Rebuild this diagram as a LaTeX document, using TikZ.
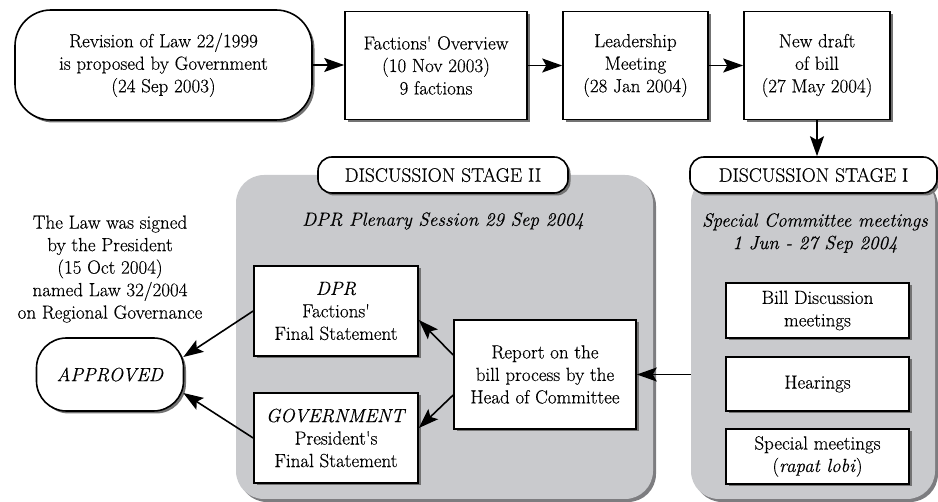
\documentclass[tikz,border=0pt]{standalone}
\usepackage{fontspec}
\setmainfont{Latin Modern Roman}[FakeBold=0.35]
\usetikzlibrary{shadows,arrows.meta,calc}
\definecolor{panelgrey}{RGB}{201,202,205}
\definecolor{panelshade}{RGB}{125,125,128}
\begin{document}
\begin{tikzpicture}[x=1pt,y=-1pt,
  base/.style={font=\fontsize{19}{22.5}\selectfont, align=center, inner sep=0pt},
  box/.style={base, draw, line width=1.6pt, fill=white,
    drop shadow={shadow xshift=2.5pt, shadow yshift=-2.5pt, fill=black!55, opacity=1}},
  roundbox/.style={box, rounded corners=36pt},
  tag/.style={box, rounded corners=14pt, font=\fontsize{19.5}{24}\selectfont},
  panel/.style={fill=panelgrey, rounded corners=28pt, inner sep=0pt,
    drop shadow={shadow xshift=3pt, shadow yshift=-3pt, fill=panelshade, opacity=1}},
  flow/.style={line width=1.6pt, -{Stealth[length=20pt,width=14pt,inset=4pt]}},
]
\useasboundingbox (0,0) rectangle (938,502);

% grey stage panels
\node[panel, minimum width=417pt, minimum height=324pt] (p2) at (444.5,337) {};
\node[panel, minimum width=244pt, minimum height=324pt] (p1) at (813,337) {};

% stage labels
\node[tag, minimum width=250pt, minimum height=36pt] (tag2) at (443,175) {DISCUSSION STAGE II};
\node[tag, minimum width=247pt, minimum height=36pt] (tag1) at (813.5,175) {DISCUSSION STAGE I};

% top row
\node[roundbox, minimum width=297pt, minimum height=110pt] (b1) at (163.5,65)
  {Revision of Law 22/1999\\is proposed by Government\\(24 Sep 2003)};
\node[box, minimum width=182pt, minimum height=108pt] (b2) at (436,65.5)
  {Factions\textquotesingle\ Overview\\(10 Nov 2003)\\9 factions};
\node[box, minimum width=145pt, minimum height=108pt] (b3) at (635.5,65.5)
  {Leadership\\Meeting\\(28 Jan 2004)};
\node[box, minimum width=146pt, minimum height=108pt] (b4) at (817,65.5)
  {New draft\\of bill\\(27 May 2004)};

% panel headings
\node[base] (t2) at (443,221) {\itshape DPR Plenary Session 29 Sep 2004};
\node[base] (t1) at (815,233) {\itshape Special Committee meetings\\\itshape 1 Jun - 27 Sep 2004};

% stage I meetings
\node[box, minimum width=183pt, minimum height=55pt] (m1) at (817.5,310.5) {Bill Discussion\\meetings};
\node[box, minimum width=183pt, minimum height=54pt] (m2) at (817.5,384) {Hearings};
\node[box, minimum width=183pt, minimum height=55pt] (m3) at (817.5,456.5) {Special meetings\\(\textit{rapat lobi})};

% stage II
\node[box, minimum width=182pt, minimum height=109pt] (rep) at (545,374.5)
  {Report on the\\bill process by the\\Head of Committee};
\node[box, minimum width=164pt, minimum height=90pt] (dpr) at (336,311)
  {\textit{DPR}\\Factions\textquotesingle\\Final Statement};
\node[box, minimum width=164pt, minimum height=90pt] (gov) at (336,438)
  {\textit{GOVERNMENT}\\President\textquotesingle s\\Final Statement};

% outcome
\node[base] (signed) at (110,269)
  {The Law was signed\\by the President\\(15 Oct 2004)\\named Law 32/2004\\on Regional Governance};
\node[box, rounded corners=30pt, minimum width=147pt, minimum height=73pt] (appr) at (110,374.5)
  {\textit{APPROVED}};

% connectors
\draw[flow] (b1.east) -- (b2.west |- b1.east);
\draw[flow] (b2.east) -- (b3.west);
\draw[flow] (b3.east) -- (b4.west);
\draw[flow] (b4.south) -- (b4.south |- tag1.north);
\draw[flow] (p1.west |- rep.east) -- (rep.east);
\draw[flow] ($(rep.west)+(0,-19.5)$) -- ($(dpr.east)+(0,9)$);
\draw[flow] ($(rep.west)+(0,20.5)$) -- ($(gov.east)+(0,-10)$);
\draw[flow] (dpr.west) -- ($(appr.east)+(-1,-17.5)$);
\draw[flow] (gov.west) -- ($(appr.east)+(-1,18.5)$);
\end{tikzpicture}
\end{document}
